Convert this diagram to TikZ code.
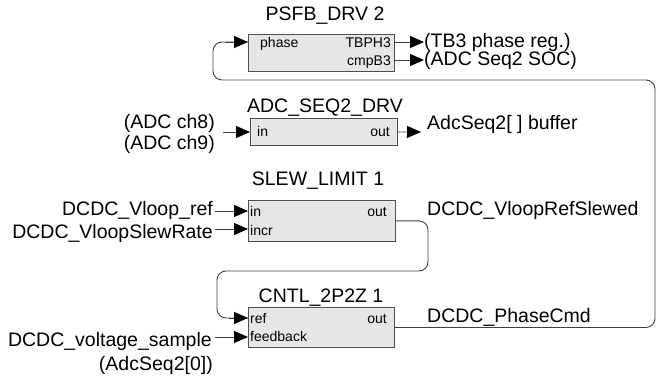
\documentclass[tikz,border=0pt]{standalone}
\usepackage{fontspec}
\setmainfont{Liberation Sans}
\usetikzlibrary{arrows.meta}

\definecolor{wire}{HTML}{404040}
\definecolor{blkfill}{HTML}{E6E6E6}
\definecolor{blkedge}{HTML}{505050}

\begin{document}
\begin{tikzpicture}[x=1pt,y=-1pt,
  blk/.style={draw=blkedge, fill=blkfill, line width=0.9pt, inner sep=0pt, anchor=north west},
  big/.style={inner sep=0pt, font=\fontsize{19.5}{22}\selectfont},
  port/.style={inner sep=0pt, font=\fontsize{14}{16}\selectfont},
  wirestyle/.style={draw=wire, line width=0.9pt},
  arr/.style={wirestyle, -{Triangle[length=14pt,width=12pt,fill=black,color=black]}},
  loop/.style={wirestyle, rounded corners=9pt}
]
\path[use as bounding box] (0,0) rectangle (663,379);

% ---------------- blocks ----------------
\node[blk, minimum width=146pt, minimum height=37pt] (psfb) at (248,34) {};
\node[blk, minimum width=147pt, minimum height=27pt] (adc)  at (250,118) {};
\node[blk, minimum width=147pt, minimum height=41pt] (slew) at (248,200) {};
\node[blk, minimum width=146pt, minimum height=40pt] (cntl) at (248,307) {};

% block titles
\node[big, anchor=base] (t-psfb) at (325,21)  {PSFB\_DRV 2};
\node[big, anchor=base] (t-adc)  at (325,113) {ADC\_SEQ2\_DRV};
\node[big, anchor=base] (t-slew) at (318,186) {SLEW\_LIMIT 1};
\node[big, anchor=base] (t-cntl) at (321,302) {CNTL\_2P2Z 1};

% port names inside the blocks
\node[port, anchor=base west] (p-phase) at (260,48)  {phase};
\node[port, anchor=base east] (p-tbph)  at (391,48)  {TBPH3};
\node[port, anchor=base east] (p-cmpb)  at (391,66)  {cmpB3};
\node[port, anchor=base west] (p-adcin) at (257,137) {in};
\node[port, anchor=base east] (p-adcout) at (390,137) {out};
\node[port, anchor=base west] (p-slin)  at (250,217) {in};
\node[port, anchor=base west] (p-slinc) at (250,235) {incr};
\node[port, anchor=base east] (p-slout) at (387,217) {out};
\node[port, anchor=base west] (p-ref)   at (250,323) {ref};
\node[port, anchor=base west] (p-fb)    at (250,341) {feedback};
\node[port, anchor=base east] (p-cout)  at (387,323) {out};

% ---------------- signal labels ----------------
\node[big, anchor=base west] (l-tb3)  at (424,48)  {(TB3 phase reg.)};
\node[big, anchor=base west] (l-soc)  at (424,66)  {(ADC Seq2 SOC)};
\node[big, anchor=base east] (l-ch8)  at (215,129) {(ADC ch8)};
\node[big, anchor=base east] (l-ch9)  at (215,150) {(ADC ch9)};
\node[big, anchor=base west] (l-buf)  at (427,130) {AdcSeq2[ ] buffer};
\node[big, anchor=base east] (l-vref) at (213,216) {DCDC\_Vloop\_ref};
\node[big, anchor=base east] (l-rate) at (213,238) {DCDC\_VloopSlewRate};
\node[big, anchor=base west] (l-slw)  at (427,215) {DCDC\_VloopRefSlewed};
\node[big, anchor=base west] (l-pcmd) at (427,322) {DCDC\_PhaseCmd};
\node[big, anchor=base east] (l-vs)   at (212,346) {DCDC\_voltage\_sample};
\node[big, anchor=base east] (l-vs2)  at (213,370) {(AdcSeq2[0])};

% ---------------- connector end points ----------------
\coordinate (tbph-out) at (394,42);
\coordinate (tbph-end) at (424,42);
\coordinate (cmpb-out) at (394,60);
\coordinate (cmpb-end) at (424,60);
\coordinate (adc-src)  at (223,132);
\coordinate (buf-end)  at (421,132);
\coordinate (vref-src) at (215,211);
\coordinate (rate-src) at (215,229);
\coordinate (vs-src)   at (215,337);
\coordinate (slw-turn) at (428,271);
\coordinate (ref-col)  at (217,318);
\coordinate (pcmd-col) at (655,80);
\coordinate (phase-col) at (213,42);

% ---------------- connectors ----------------
\draw[arr] (tbph-out) -- (tbph-end);
\draw[arr] (cmpb-out) -- (cmpb-end);
\draw[arr] (adc-src) -- (adc-src -| adc.west);
\draw[arr] (adc.east) -- (buf-end);
\draw[arr] (vref-src) -- (vref-src -| slew.west);
\draw[arr] (rate-src) -- (rate-src -| slew.west);
\draw[arr] (vs-src) -- (vs-src -| cntl.west);

% slewed reference loops back into the controller
\draw[loop] (slew.east) -| (slw-turn) -| (ref-col) -- (ref-col -| cntl.west);
\draw[arr] (ref-col) ++(12,0) -- (ref-col -| cntl.west);

% phase command feeds the PWM driver
\draw[loop] (cntl.east) -| (pcmd-col) -| (phase-col) -- (phase-col -| psfb.west);
\draw[arr] (phase-col) ++(12,0) -- (phase-col -| psfb.west);
\end{tikzpicture}
\end{document}
